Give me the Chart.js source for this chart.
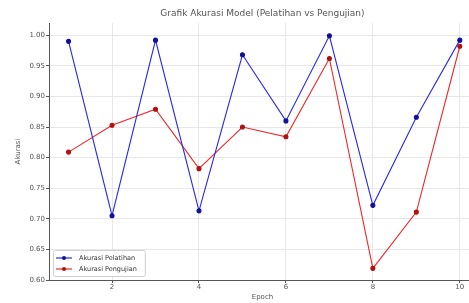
<!DOCTYPE html>
<html>
<head>
<meta charset="utf-8">
<script src="https://cdn.jsdelivr.net/npm/chart.js@4.4.1/dist/chart.umd.min.js"></script>
<style>
  html, body { margin: 0; padding: 0; background: #fff; overflow: hidden; }
  #wrap { width: 481px; height: 303px; }
</style>
</head>
<body>
<div id="wrap"><canvas id="acc" width="481" height="303"></canvas></div>
<script>
  const epochs = [1, 2, 3, 4, 5, 6, 7, 8, 9, 10];
  const trainAcc = [0.990, 0.705, 0.992, 0.713, 0.968, 0.860, 0.999, 0.722, 0.866, 0.992];
  const testAcc = [0.809, 0.853, 0.879, 0.782, 0.850, 0.834, 0.962, 0.619, 0.711, 0.982];
  const xTicks = [2, 4, 6, 8, 10];
  const yTicks = [0.60, 0.65, 0.70, 0.75, 0.80, 0.85, 0.90, 0.95, 1.00];

  const font = 'DejaVu Sans, sans-serif';

  function points(values) {
    return epochs.map(function (e, i) { return { x: e, y: values[i] }; });
  }

  // matplotlib style legend in the lower left of the plot
  const innerLegend = {
    id: 'innerLegend',
    afterDraw: function (chart) {
      const ctx = chart.ctx;
      const area = chart.chartArea;
      const sets = chart.data.datasets;
      const x0 = area.left + 4, rowH = 11;
      const h = sets.length * rowH + 4;
      const y0 = area.bottom - 4 - h;
      ctx.save();
      ctx.font = '6.5px ' + font;
      let w = 0;
      sets.forEach(function (d) { w = Math.max(w, ctx.measureText(d.label).width); });
      w += 34;
      ctx.fillStyle = 'rgba(255,255,255,0.85)';
      ctx.strokeStyle = '#d0d0d0';
      ctx.lineWidth = 1;
      ctx.beginPath();
      ctx.roundRect(x0 + 0.5, y0 + 0.5, w, h, 2);
      ctx.fill();
      ctx.stroke();
      sets.forEach(function (d, i) {
        const cy = y0 + 8 + i * rowH;
        ctx.strokeStyle = d.borderColor;
        ctx.lineWidth = 1.2;
        ctx.beginPath();
        ctx.moveTo(x0 + 3, cy);
        ctx.lineTo(x0 + 19, cy);
        ctx.stroke();
        ctx.fillStyle = d.pointBackgroundColor;
        ctx.beginPath();
        ctx.arc(x0 + 11, cy, 2, 0, Math.PI * 2);
        ctx.fill();
        ctx.fillStyle = '#333';
        ctx.textBaseline = 'middle';
        ctx.fillText(d.label, x0 + 26, cy);
      });
      ctx.restore();
    }
  };

  new Chart(document.getElementById('acc'), {
    type: 'line',
    data: {
      datasets: [
        {
          label: 'Akurasi Pelatihan',
          data: points(trainAcc),
          borderColor: '#2828f0',
          pointBackgroundColor: '#10109a',
          pointBorderColor: '#10109a',
          borderWidth: 1.1,
          pointRadius: 2,
          tension: 0
        },
        {
          label: 'Akurasi Pengujian',
          data: points(testAcc),
          borderColor: '#f02828',
          pointBackgroundColor: '#b01010',
          pointBorderColor: '#b01010',
          borderWidth: 1.1,
          pointRadius: 2,
          tension: 0
        }
      ]
    },
    options: {
      responsive: false,
      animation: false,
      layout: { padding: { left: 0, right: 1, top: 0, bottom: 0 } },
      scales: {
        x: {
          type: 'linear',
          min: 0.55,
          max: 10.37,
          afterBuildTicks: function (s) { s.ticks = xTicks.map(function (v) { return { value: v }; }); },
          afterFit: function (s) { s.height = 23; },
          ticks: { color: '#555', padding: 0, font: { size: 7, family: font } },
          grid: { color: '#e8e8e8', tickColor: '#555', tickLength: 3 },
          border: { color: '#555', width: 1 },
          title: { display: true, text: 'Epoch', color: '#555', padding: { top: 0, bottom: 1.8 }, font: { size: 7, family: font } }
        },
        y: {
          min: 0.6,
          max: 1.02,
          afterBuildTicks: function (s) { s.ticks = yTicks.map(function (v) { return { value: v }; }); },
          afterFit: function (s) { s.width = 49; },
          ticks: {
            color: '#555', padding: 1, font: { size: 7, family: font },
            callback: function (v) { return Number(v).toFixed(2); }
          },
          grid: { color: '#e8e8e8', tickColor: '#555', tickLength: 3 },
          border: { color: '#555', width: 1 },
          title: { display: true, text: 'Akurasi', color: '#555', padding: { top: 14, bottom: 0 }, font: { size: 7, family: font } }
        }
      },
      plugins: {
        legend: { display: false },
        tooltip: { enabled: false },
        title: {
          display: true,
          fullSize: false,
          text: 'Grafik Akurasi Model (Pelatihan vs Pengujian)',
          color: '#555',
          font: { size: 9, weight: 'normal', family: font, lineHeight: 1.2 },
          padding: { top: 8.5, bottom: 3.7 }
        }
      }
    },
    plugins: [innerLegend]
  });
</script>
</body>
</html>
